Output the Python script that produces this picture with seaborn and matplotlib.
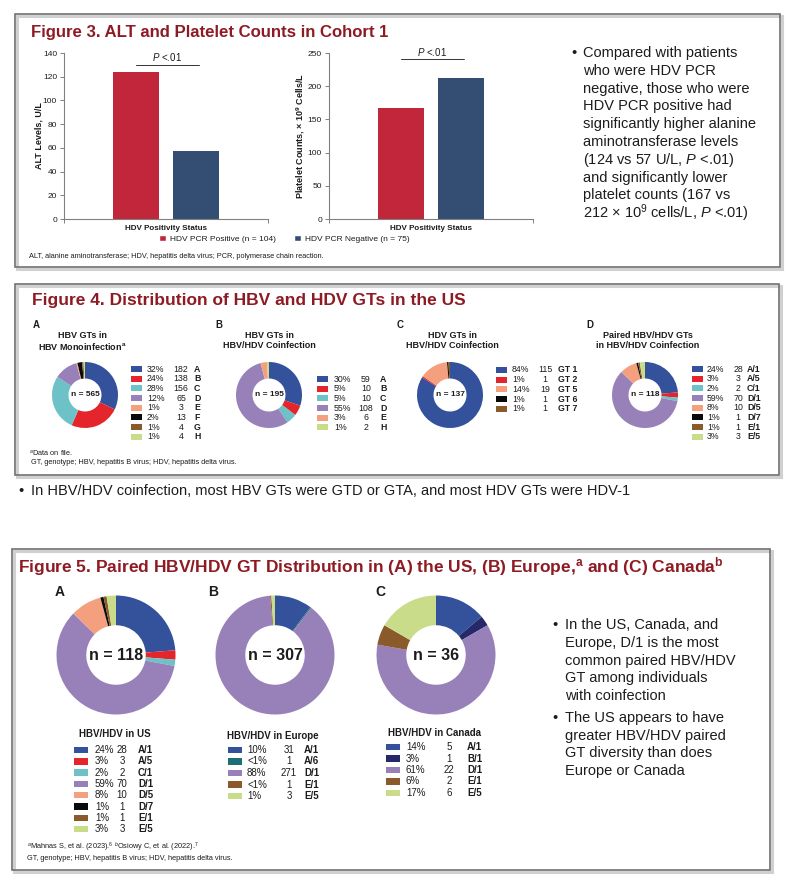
import numpy as np
import pandas as pd
import matplotlib
matplotlib.use("Agg")
import matplotlib.pyplot as plt
from matplotlib.patches import Rectangle, Patch
import seaborn as sns

# ---------------- data ----------------
# Figure 3
fig3_groups = ["HDV PCR Positive (n = 104)", "HDV PCR Negative (n = 75)"]
fig3_alt = [124, 57]
fig3_platelets = [167, 212]
fig3_alt_ticks = [0, 20, 40, 60, 80, 100, 120, 140]
fig3_plt_ticks = [0, 50, 100, 150, 200, 250]

# Figure 4
f4a_labels = ["A", "B", "C", "D", "E", "F", "G", "H"]
f4a_counts = [182, 138, 156, 65, 3, 13, 4, 4]
f4a_pcts = ["32%", "24%", "28%", "12%", "1%", "2%", "1%", "1%"]

f4b_labels = ["A", "B", "C", "D", "E", "H"]
f4b_counts = [59, 10, 10, 108, 6, 2]
f4b_pcts = ["30%", "5%", "5%", "55%", "3%", "1%"]

f4c_labels = ["GT 1", "GT 2", "GT 5", "GT 6", "GT 7"]
f4c_counts = [115, 1, 19, 1, 1]
f4c_pcts = ["84%", "1%", "14%", "1%", "1%"]

pair_us_labels = ["A/1", "A/5", "C/1", "D/1", "D/5", "D/7", "E/1", "E/5"]
pair_us_counts = [28, 3, 2, 70, 10, 1, 1, 3]
pair_us_pcts = ["24%", "3%", "2%", "59%", "8%", "1%", "1%", "3%"]

eu_labels = ["A/1", "A/6", "D/1", "E/1", "E/5"]
eu_counts = [31, 1, 271, 1, 3]
eu_pcts = ["10%", "<1%", "88%", "<1%", "1%"]

ca_labels = ["A/1", "B/1", "D/1", "E/1", "E/5"]
ca_counts = [5, 1, 22, 2, 6]
ca_pcts = ["14%", "3%", "61%", "6%", "17%"]

# ---------------- style ----------------
C = {
    "A": "#34519C", "B": "#E4252B", "C": "#6DC2C8", "D": "#9880B8",
    "E": "#F4A07E", "F": "#0A0A0A", "G": "#8A5A2A", "H": "#C9DC8A",
    "A6": "#1E6E76", "B1": "#25296A",
}
f4a_colors = [C["A"], C["B"], C["C"], C["D"], C["E"], C["F"], C["G"], C["H"]]
f4b_colors = [C["A"], C["B"], C["C"], C["D"], C["E"], C["H"]]
f4c_colors = [C["A"], C["B"], C["E"], C["F"], C["G"]]
pair_us_colors = [C["A"], C["B"], C["C"], C["D"], C["E"], C["F"], C["G"], C["H"]]
eu_colors = [C["A"], C["A6"], C["D"], C["G"], C["H"]]
ca_colors = [C["A"], C["B1"], C["D"], C["G"], C["H"]]

BAR_RED = "#C1263A"
BAR_BLUE = "#344E73"
TITLE_RED = "#8E1B23"
DARK = "#1c1c1c"

sns.set_theme(style="white")
plt.rcParams["font.family"] = ["Liberation Sans", "DejaVu Sans"]
plt.rcParams["mathtext.fontset"] = "custom"
plt.rcParams["mathtext.rm"] = "Liberation Sans"
plt.rcParams["mathtext.it"] = "Liberation Sans:italic"
plt.rcParams["mathtext.bf"] = "Liberation Sans:bold"

W, H = 799, 880
fig = plt.figure(figsize=(W / 100, H / 100), dpi=100)
fig.patch.set_facecolor("white")

ov = fig.add_axes([0, 0, 1, 1])
ov.set_xlim(0, W)
ov.set_ylim(H, 0)
ov.axis("off")


def T(x, y, s, fs, bold=False, ha="left", va="center", color=DARK, **kw):
    return ov.text(x, y, s, fontsize=fs, fontweight="bold" if bold else "normal",
                   ha=ha, va=va, color=color, **kw)


def box(x0, y0, x1, y1):
    ov.add_patch(Rectangle((x0 + 2, y0 + 2), x1 - x0, y1 - y0, fill=False,
                           edgecolor="#d0d0d0", lw=2.2))
    ov.add_patch(Rectangle((x0, y0), x1 - x0, y1 - y0, fill=False,
                           edgecolor="#707070", lw=1.2))


def px_axes(x0, y0, x1, y1):
    return fig.add_axes([x0 / W, 1 - y1 / H, (x1 - x0) / W, (y1 - y0) / H])


def donut(cx, cy, r, counts, colors, label, fs):
    m = 1.03
    ax = px_axes(cx - r * m, cy - r * m, cx + r * m, cy + r * m)
    ax.pie(counts, colors=colors, startangle=90, counterclock=False,
           wedgeprops=dict(width=0.5, linewidth=0))
    ax.set_xlim(-m, m)
    ax.set_ylim(-m, m)
    ax.set_aspect("equal")
    ax.text(0, 0, label, ha="center", va="center", fontsize=fs,
            fontweight="bold", color=DARK)
    return ax


def legend_rows(x_sw, sw_w, sw_h, x_pct, x_cnt, x_lab, y0, dy,
                colors, pcts, counts, labels, fs):
    for i, (c, p, n, l) in enumerate(zip(colors, pcts, counts, labels)):
        y = y0 + i * dy
        ov.add_patch(Rectangle((x_sw, y - sw_h / 2), sw_w, sw_h,
                               facecolor=c, edgecolor="none"))
        T(x_pct, y, p, fs)
        T(x_cnt, y, str(n), fs, ha="center")
        T(x_lab, y, l, fs, bold=True)


# ================= Figure 3 =================
box(15, 14, 780, 267)
t3 = T(31, 33, "Figure 3. ALT and Platelet Counts in Cohort 1", 12,
       bold=True, color=TITLE_RED)

df3 = pd.DataFrame({"status": fig3_groups, "alt": fig3_alt,
                    "plt": fig3_platelets})
XL = (-1.224, 2.224)


def bar_panel(x0, x1, col, ticks, ylabel, lab_x):
    ax = px_axes(x0, 53, x1, 219)
    sns.barplot(data=df3, x="status", y=col, hue="status",
                palette=[BAR_RED, BAR_BLUE], saturation=1, width=0.776,
                linewidth=0, legend=False, ax=ax)
    ax.set_xlim(*XL)
    ax.set_ylim(ticks[0], ticks[-1])
    ax.set_yticks(ticks)
    ax.set_xticks(list(XL))
    ax.set_xticklabels(["", ""])
    sns.despine(ax=ax)
    for s in ["left", "bottom"]:
        ax.spines[s].set_color("#808080")
        ax.spines[s].set_linewidth(0.8)
    ax.tick_params(axis="both", which="both", direction="out", length=3,
                   width=0.7, color="#808080", labelsize=6, labelcolor=DARK,
                   pad=2, left=True, bottom=True)
    ax.set_ylabel(ylabel, fontsize=6.5, fontweight="bold", color=DARK)
    ax.yaxis.set_label_coords(lab_x, 0.5)
    ax.set_xlabel("HDV Positivity Status", fontsize=5.8, fontweight="bold",
                  color=DARK)
    ax.xaxis.set_label_coords(0.5, -0.035)
    ax.set_facecolor("none")
    return ax


ax_alt = bar_panel(64, 268, "alt", fig3_alt_ticks, "ALT Levels, U/L", -0.10)
ax_alt.plot([0, 1.05], [130, 130], color="#333333", lw=0.7, clip_on=False)
ax_alt.text(0.52, 136.6, "$\\mathit{P}$ <.01", ha="center", va="center",
            fontsize=7, color=DARK, clip_on=False)

ax_plt = bar_panel(329, 533, "plt", fig3_plt_ticks,
                   "Platelet Counts, \u00d7 10$^{\\mathbf{9}}$ Cells/L", -0.11)
ax_plt.plot([0, 1.05], [241, 241], color="#333333", lw=0.7, clip_on=False)
ax_plt.text(0.52, 251.5, "$\\mathit{P}$ <.01", ha="center", va="center",
            fontsize=7, color=DARK, clip_on=False)

handles = [Patch(facecolor=BAR_RED), Patch(facecolor=BAR_BLUE)]
ov.legend(handles, fig3_groups, loc="center", bbox_to_anchor=(284.5, 239),
          bbox_transform=ov.transData, ncol=2, frameon=False, fontsize=6,
          handlelength=0.8, handleheight=0.8, handletextpad=0.5,
          columnspacing=2.2, borderpad=0, labelcolor=DARK)

T(29, 256, "ALT, alanine aminotransferase; HDV, hepatitis delta virus; "
           "PCR, polymerase chain reaction.", 5.3)

fig3_text = ["Compared with patients", "who were HDV PCR",
             "negative, those who were", "HDV PCR positive had",
             "significantly higher alanine", "aminotransferase levels",
             "(124 vs 57 U/L, $\\mathit{P}$ <.01)", "and significantly lower",
             "platelet counts (167 vs",
             "212 \u00d7 10$^{9}$ cells/L, $\\mathit{P}$ <.01)"]
T(571, 53, "\u2022", 10.5)
for i, line in enumerate(fig3_text):
    T(583, 53 + i * 17.8, line, 10.5)

# ================= Figure 4 =================
box(15, 284, 779, 475)
t4 = T(32, 301, "Figure 4. Distribution of HBV and HDV GTs in the US", 12,
       bold=True, color=TITLE_RED)

for lx, letter in zip([33, 215, 397, 586], ["A", "B", "C", "D"]):
    T(lx, 325, letter, 7, bold=True)
subs = [(82, "HBV GTs in", "HBV Monoinfection$^{\\mathbf{a}}$"),
        (269, "HBV GTs in", "HBV/HDV Coinfection"),
        (452, "HDV GTs in", "HBV/HDV Coinfection"),
        (648, "Paired HBV/HDV GTs", "in HBV/HDV Coinfection")]
for cx, l1, l2 in subs:
    T(cx, 335, l1, 6.5, bold=True, ha="center")
    T(cx, 346, l2, 6.5, bold=True, ha="center")

donut(85, 395, 33, f4a_counts, f4a_colors, "n = 565", 6)
donut(269, 395, 33, f4b_counts, f4b_colors, "n = 195", 6)
donut(450, 395, 33, f4c_counts, f4c_colors, "n = 137", 6)
donut(645, 395, 33, pair_us_counts, pair_us_colors, "n = 118", 6)

legend_rows(131, 11, 6, 147, 181, 194, 369, 9.7,
            f4a_colors, f4a_pcts, f4a_counts, f4a_labels, 6.3)
legend_rows(317, 11, 6, 334, 366, 380, 379, 9.7,
            f4b_colors, f4b_pcts, f4b_counts, f4b_labels, 6.3)
legend_rows(496, 11, 6, 512, 545, 558, 370, 9.7,
            f4c_colors, f4c_pcts, f4c_counts, f4c_labels, 6.3)
legend_rows(692, 11, 6, 707, 738, 747, 369, 9.7,
            pair_us_colors, pair_us_pcts, pair_us_counts, pair_us_labels, 6.3)

T(29, 453, "$^{a}$Data on file.", 5.3)
T(31, 463, "GT, genotype; HBV, hepatitis B virus; HDV, hepatitis delta virus.", 5.3)

T(18, 491, "\u2022", 10.5)
T(31, 491, "In HBV/HDV coinfection, most HBV GTs were GTD or GTA, and most HDV "
           "GTs were HDV-1", 10.5)

# ================= Figure 5 =================
box(12, 549, 770, 870)
t5 = T(18, 567, "Figure 5. Paired HBV/HDV GT Distribution in (A) the US, (B) "
                "Europe,$^{\\mathbf{a}}$ and (C) Canada$^{\\mathbf{b}}$", 12,
       bold=True, color=TITLE_RED)

for lx, letter in zip([55, 208, 375], ["A", "B", "C"]):
    T(lx, 592, letter, 10, bold=True)

donut(116, 655, 59.5, pair_us_counts, pair_us_colors, "n = 118", 11.5)
donut(275, 655, 59.5, eu_counts, eu_colors, "n = 307", 11.5)
donut(436, 655, 59.5, ca_counts, ca_colors, "n = 36", 11.5)

T(115, 734, "HBV/HDV in US", 7, bold=True, ha="center")
T(273, 736, "HBV/HDV in Europe", 7, bold=True, ha="center")
T(435, 733, "HBV/HDV in Canada", 7, bold=True, ha="center")

legend_rows(74, 14, 6.5, 95, 122, 138, 750, 11.3,
            pair_us_colors, pair_us_pcts, pair_us_counts, pair_us_labels, 7)
legend_rows(228, 14, 6.5, 247, 289, 304, 750, 11.5,
            eu_colors, eu_pcts, eu_counts, eu_labels, 7)
legend_rows(386, 14, 6.5, 406, 449, 467, 747, 11.5,
            ca_colors, ca_pcts, ca_counts, ca_labels, 7)

T(27, 847, "$^{a}$Mahnas S, et al. (2023).$^{6}$ $^{b}$Osiowy C, et al. (2022).$^{7}$", 5.3)
T(27, 858, "GT, genotype; HBV, hepatitis B virus; HDV, hepatitis delta virus.", 5.3)

b1 = ["In the US, Canada, and", "Europe, D/1 is the most",
      "common paired HBV/HDV", "GT among individuals", "with coinfection"]
b2 = ["The US appears to have", "greater HBV/HDV paired",
      "GT diversity than does", "Europe or Canada"]
T(552, 625, "\u2022", 10.5)
for i, line in enumerate(b1):
    T(565, 625 + i * 17.75, line, 10.5)
T(552, 718, "\u2022", 10.5)
for i, line in enumerate(b2):
    T(565, 718 + i * 17.75, line, 10.5)

# fit title widths to the reference layout
fig.canvas.draw()
rend = fig.canvas.get_renderer()
for t, target in [(t3, 357), (t4, 430), (t5, 702)]:
    w = t.get_window_extent(rend).width
    t.set_fontsize(t.get_fontsize() * target / w)

fig.savefig("out.png", dpi=100, facecolor="white")
